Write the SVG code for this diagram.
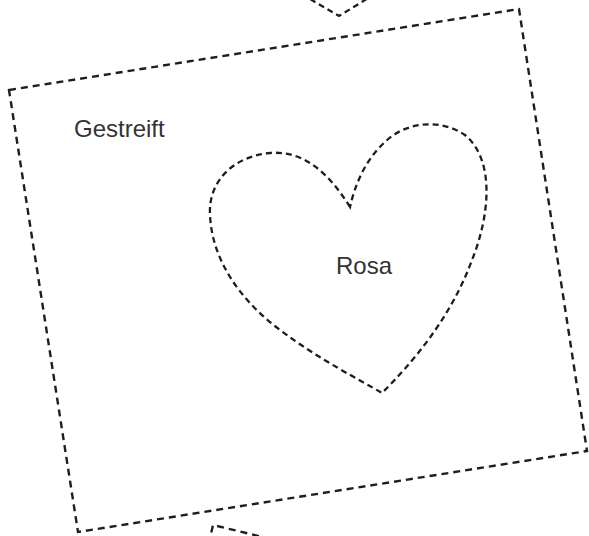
<svg xmlns="http://www.w3.org/2000/svg" width="589" height="536" viewBox="0 0 589 536">
<style>
.d{fill:none;stroke:#1e1e1e;stroke-width:2.4;stroke-dasharray:7 5;stroke-linejoin:miter}
.h{fill:none;stroke:#1e1e1e;stroke-width:2.3;stroke-dasharray:6 4}
.t{font-family:"Liberation Sans",Arial,sans-serif;font-size:24px;fill:#333}
</style>
<rect width="589" height="536" fill="#fff"/>
<g id="partial-top"><path class="h" d="M293 -11 L339 16 L383 -11"/></g>
<g id="partial-bottom"><path class="d" d="M206 556 L213 525 L300 546"/></g>
<g id="square">
<path class="d" d="M9 90 L519 9 L587 451 L78 532 Z"/>
<text class="t" x="74" y="137">Gestreift</text>
</g>
<g id="heart">
<path class="h" d="M350 207 C330 175 305 150 270 153 C235 156 208 180 210 215 C212 260 240 300 280 330 C320 360 360 380 382 393 C410 365 450 320 472 260 C490 215 495 160 465 135 C440 118 405 122 385 142 C365 160 355 185 350 207 Z"/>
<text class="t" x="336" y="274">Rosa</text>
</g>
<g id="connectors"></g>
</svg>
